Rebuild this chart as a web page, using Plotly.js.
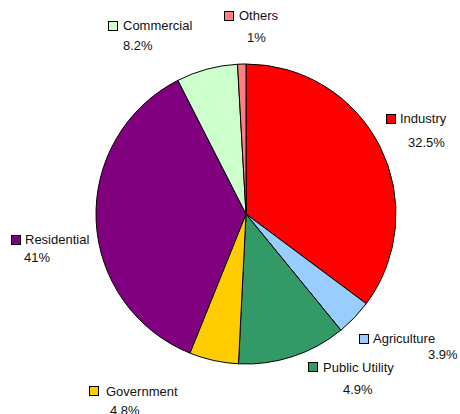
<!DOCTYPE html>
<html>
<head>
<meta charset="utf-8">
<script src="https://cdn.plot.ly/plotly-3.0.1.min.js"></script>
<style>html,body{margin:0;padding:0;background:#fff}#chart{width:460px;height:414px}</style>
</head>
<body>
<div id="chart"></div>
<script>
// Categories in drawing order (clockwise from 12 o'clock)
const categories = ["Industry", "Agriculture", "Public Utility", "Government", "Residential", "Commercial", "Others"];
// Slice shares as drawn in the picture (%)
const shares = [35.2, 3.9, 11.7, 5.3, 36.4, 6.6, 0.9];
// Percent labels as printed on the chart
const printedPct = ["32.5%", "3.9%", "4.9%", "4.8%", "41%", "8.2%", "1%"];
const colors = ["#FF0000", "#99CCFF", "#339966", "#FFCC00", "#800080", "#CCFFCC", "#FF8080"];

const W = 460, H = 414;
const px = x => x / W, py = y => 1 - y / H;

// label layout: key centre, name left/centre-y, pct anchor
const labelLayout = [
  {key: [391, 119], name: [399, 119], pct: [446, 142, "right"]},
  {key: [364, 338.5], name: [372, 338], pct: [459, 354, "right"]},
  {key: [312.5, 367], name: [322, 367], pct: [342, 389, "left"]},
  {key: [93.5, 391], name: [105, 391], pct: [109, 410, "left"]},
  {key: [16, 239.5], name: [24, 239], pct: [23, 257, "left"]},
  {key: [113, 26], name: [122, 25], pct: [122, 45, "left"]},
  {key: [229, 16.5], name: [238, 16], pct: [246, 38, "left"]}
];

const font = {family: "Liberation Sans, Arial, sans-serif", size: 13, color: "#111"};
const annotations = [];
categories.forEach((c, i) => {
  const L = labelLayout[i];
  annotations.push({
    xref: "paper", yref: "paper", x: px(L.key[0]), y: py(L.key[1]),
    xanchor: "center", yanchor: "middle", text: " ", showarrow: false,
    width: 8, height: 8, borderpad: 0, bgcolor: colors[i],
    bordercolor: "#000", borderwidth: 1, font: {size: 6}
  });
  annotations.push({
    xref: "paper", yref: "paper", x: px(L.name[0]), y: py(L.name[1]),
    xanchor: "left", yanchor: "middle", text: c, showarrow: false, font: font, borderpad: 0
  });
  annotations.push({
    xref: "paper", yref: "paper", x: px(L.pct[0]), y: py(L.pct[1]),
    xanchor: L.pct[2], yanchor: "middle", text: printedPct[i], showarrow: false, font: font, borderpad: 0
  });
});

const data = [{
  type: "pie",
  labels: categories,
  values: shares,
  sort: false,
  direction: "clockwise",
  rotation: 0,
  marker: {colors: colors, line: {color: "#000", width: 1}},
  textinfo: "none",
  hoverinfo: "label+percent",
  domain: {x: [px(96), px(396)], y: [py(364), py(64)]}
}];

const layout = {
  width: W, height: H,
  margin: {l: 0, r: 0, t: 0, b: 0},
  paper_bgcolor: "#fff",
  showlegend: false,
  annotations: annotations
};

Plotly.newPlot("chart", data, layout, {displayModeBar: false, staticPlot: true});
</script>
</body>
</html>
